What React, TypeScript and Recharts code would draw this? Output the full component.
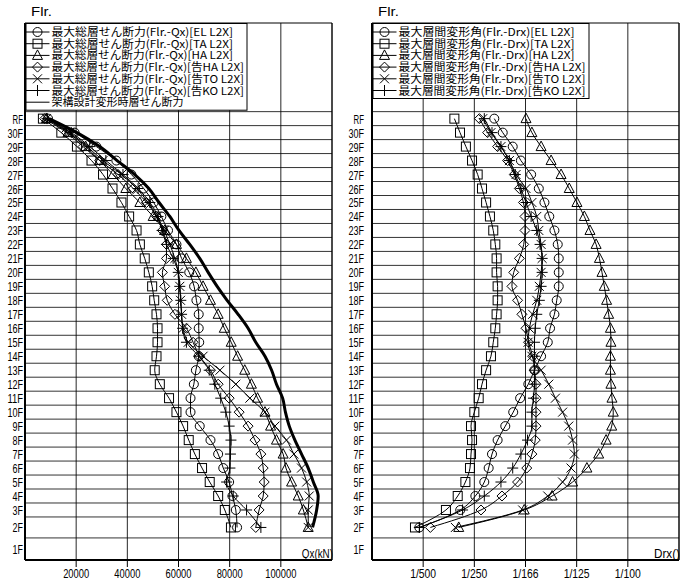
import React from 'react';
import { ComposedChart, Line, XAxis, YAxis, CartesianGrid, ReferenceLine, ReferenceArea } from 'recharts';

// floors, top to bottom
const FLOORS = ['RF', '30F', '29F', '28F', '27F', '26F', '25F', '24F', '23F', '22F', '21F', '20F', '19F', '18F', '17F', '16F',
  '15F', '14F', '13F', '12F', '11F', '10F', '9F', '8F', '7F', '6F', '5F', '4F', '3F', '2F', '1F'];
// story heights (m), top to bottom
const STORY_HEIGHTS = [3.8, 3.8, 3.8, 3.8, 3.8, 3.8, 3.8, 3.8, 3.8, 3.8, 3.8, 3.8, 3.8, 3.8, 3.8, 3.8,
  3.8, 3.8, 3.8, 3.8, 3.8, 3.8, 3.8, 3.8, 3.8, 3.8, 3.8, 3.8, 3.8, 5.7, 6.0];

// story shear Qx (kN), RF .. 2F
const QX_EL = [9000, 19400, 27900, 35700, 41600, 46400, 50300, 53300, 55900, 59200, 61200, 64200, 66100, 67000, 67900, 67900,
  68100, 67900, 66800, 66000, 64700, 64700, 68300, 72500, 75500, 77500, 79800, 81100, 82400, 82900];
const QX_TA = [7000, 14200, 20300, 26000, 30500, 34200, 37700, 40700, 43600, 44900, 46800, 48400, 49700, 50500, 51400, 51800,
  51800, 51400, 50700, 52700, 56300, 59200, 61800, 64000, 66400, 69200, 72200, 75500, 78100, 80500];
const QX_HA = [8400, 16800, 23700, 29200, 34400, 39400, 44900, 50100, 54600, 59200, 63100, 66800, 69600, 72500, 75500, 77900,
  80600, 83100, 85900, 88500, 90900, 93800, 96000, 98300, 100900, 102000, 104200, 106800, 108800, 110700];
const QX_KHA = [7700, 16200, 22700, 29200, 36400, 42300, 47500, 51400, 53700, 55300, 55300, 53700, 54600, 55600, 58600, 63100,
  65700, 68300, 72500, 75500, 79800, 83700, 87200, 89900, 92200, 93100, 93500, 93100, 91500, 90200];
const QX_KTO = [8400, 17500, 24300, 30500, 37700, 43600, 48100, 51600, 54400, 56600, 58600, 59900, 60500, 60800, 61200, 61800,
  63800, 69600, 76200, 82400, 87900, 93800, 97700, 102200, 105100, 108100, 110100, 111100, 110700, 110700];
const QX_KKO = [8600, 18100, 25300, 31600, 38300, 44200, 48800, 52000, 53600, 55300, 57900, 59900, 60500, 60900, 61200, 61600,
  63100, 67900, 72000, 74200, 76500, 78500, 79800, 80500, 80300, 80100, 78800, 81400, 86600, 92200];
const QX_DESIGN = [9400, 20300, 29200, 36000, 42900, 48400, 52400, 56600, 60200, 64400, 68300, 71600, 75100, 79000, 83300, 87200,
  90200, 93800, 96400, 98300, 100700, 101800, 103300, 105500, 108100, 110700, 112700, 114600, 114000, 112400];

// story drift angle Drx (x 1/1000 rad), RF .. 2F
const DRX_EL = [4.78, 5.11, 5.50, 5.82, 6.22, 6.52, 6.74, 6.93, 7.13, 7.26, 7.30, 7.30, 7.30, 7.22, 7.13, 6.96,
  6.87, 6.61, 6.35, 6.11, 5.79, 5.52, 5.21, 4.91, 4.69, 4.56, 4.39, 4.04, 3.45, 1.85];
const DRX_TA = [3.22, 3.44, 3.67, 3.91, 4.13, 4.30, 4.46, 4.61, 4.74, 4.82, 4.87, 4.87, 4.91, 4.91, 4.87, 4.82,
  4.74, 4.65, 4.46, 4.30, 4.17, 4.00, 3.87, 3.91, 3.87, 3.83, 3.65, 3.35, 2.89, 1.68];
const DRX_HA = [6.02, 6.25, 6.61, 7.00, 7.39, 7.71, 8.01, 8.30, 8.52, 8.76, 8.89, 8.99, 9.08, 9.17, 9.25, 9.32,
  9.34, 9.32, 9.32, 9.34, 9.38, 9.43, 9.37, 9.15, 8.86, 8.40, 7.84, 7.04, 5.95, 3.39];
const DRX_KHA = [4.20, 4.52, 4.91, 5.30, 5.56, 5.76, 5.92, 5.98, 5.98, 5.93, 5.76, 5.54, 5.47, 5.69, 5.86, 6.02,
  6.12, 6.28, 6.35, 6.41, 6.41, 6.41, 6.41, 6.38, 6.25, 6.05, 5.69, 5.08, 4.26, 2.28];
const DRX_KTO = [4.33, 4.65, 5.04, 5.37, 5.63, 6.02, 6.25, 6.44, 6.52, 6.61, 6.65, 6.61, 6.54, 6.44, 6.28, 6.15,
  6.10, 6.25, 6.61, 6.91, 7.17, 7.45, 7.69, 7.84, 7.91, 7.78, 7.45, 6.87, 5.89, 3.26];
const DRX_KKO = [4.39, 4.69, 5.04, 5.37, 5.60, 5.82, 6.02, 6.22, 6.44, 6.57, 6.65, 6.65, 6.61, 6.54, 6.44, 6.38,
  6.35, 6.35, 6.35, 6.35, 6.31, 6.25, 6.25, 6.08, 5.82, 5.50, 5.04, 4.39, 3.54, 1.85];

const QX_TICKS = [20000, 40000, 60000, 80000, 100000];
const DRX_TICKS = [2, 4, 6, 8, 10];
const DRX_TICK_LABELS = ['1/500', '1/250', '1/166', '1/125', '1/100'];

const QX_NAMES = [
  '最大総層せん断力(Flr.-Qx)[EL L2X]',
  '最大総層せん断力(Flr.-Qx)[TA L2X]',
  '最大総層せん断力(Flr.-Qx)[HA L2X]',
  '最大総層せん断力(Flr.-Qx)[告HA L2X]',
  '最大総層せん断力(Flr.-Qx)[告TO L2X]',
  '最大総層せん断力(Flr.-Qx)[告KO L2X]',
  '架構設計変形時層せん断力',
];
const DRX_NAMES = [
  '最大層間変形角(Flr.-Drx)[EL L2X]',
  '最大層間変形角(Flr.-Drx)[TA L2X]',
  '最大層間変形角(Flr.-Drx)[HA L2X]',
  '最大層間変形角(Flr.-Drx)[告HA L2X]',
  '最大層間変形角(Flr.-Drx)[告TO L2X]',
  '最大層間変形角(Flr.-Drx)[告KO L2X]',
];

type Shape = 'circle' | 'square' | 'triangle' | 'diamond' | 'cross' | 'plus' | 'none';
const SHAPES: Shape[] = ['circle', 'square', 'triangle', 'diamond', 'cross', 'plus', 'none'];

const AXIS_FONT = "'Liberation Sans', Arial, sans-serif";
const JP_FONT = "'Noto Sans CJK JP', sans-serif";
const CHAR_W = 5.2; // narrow gothic look

// story levels (bottom / mid / top) from the heights
const bottoms: number[] = [];
{
  let acc = 0;
  for (let i = FLOORS.length - 1; i >= 0; i--) {
    bottoms[i] = acc;
    acc += STORY_HEIGHTS[i];
  }
}
const mids = FLOORS.map((_, i) => bottoms[i] + STORY_HEIGHTS[i] / 2);
const tops = FLOORS.map((_, i) => bottoms[i] + STORY_HEIGHTS[i]);
const Y_MAX = 146;
const nameByMid = new Map(mids.map((m, i) => [m.toFixed(3), FLOORS[i]]));

function NarrowText({ x, y, anchor, children, dy }: { x: number; y: number; anchor: 'start' | 'middle' | 'end'; children: string; dy?: number }) {
  return (
    <text x={x} y={y} dy={dy ?? 0} textAnchor={anchor} fontSize={13} fontFamily={AXIS_FONT} fill="#000"
      textLength={children.length * CHAR_W} lengthAdjust="spacingAndGlyphs">{children}</text>
  );
}

function Marker({ shape, cx, cy }: { shape: Shape; cx: number; cy: number }) {
  const c = { fill: 'none', stroke: '#000', strokeWidth: 1 };
  const s = 4.5;
  switch (shape) {
    case 'circle':
      return <circle cx={cx} cy={cy} r={s} {...c} />;
    case 'square':
      return <rect x={cx - s} y={cy - s} width={2 * s} height={2 * s} {...c} />;
    case 'triangle':
      return <polygon points={`${cx},${cy - 5.5} ${cx + 5},${cy + 4} ${cx - 5},${cy + 4}`} {...c} />;
    case 'diamond':
      return <polygon points={`${cx},${cy - 5} ${cx + 5},${cy} ${cx},${cy + 5} ${cx - 5},${cy}`} {...c} />;
    case 'cross':
      return <path d={`M${cx - 4.5},${cy - 4.5}L${cx + 4.5},${cy + 4.5}M${cx - 4.5},${cy + 4.5}L${cx + 4.5},${cy - 4.5}`} {...c} />;
    case 'plus':
      return <path d={`M${cx - 5.5},${cy}L${cx + 5.5},${cy}M${cx},${cy - 5.5}L${cx},${cy + 5.5}`} {...c} />;
    default:
      return null;
  }
}

interface PanelProps {
  left: number;
  series: number[][];
  keys: string[];
  xMax: number;
  xTicks: number[];
  xFormat: (v: number) => string;
  xLabel: string;
  yLabelGap: number;
}

function Panel({ left, series, keys, xMax, xTicks, xFormat, xLabel, yLabelGap }: PanelProps) {
  const data = FLOORS.slice(0, series[0].length).map((f, i) => {
    const row: Record<string, number | string> = { floor: f, level: mids[i] };
    keys.forEach((k, j) => { row[k] = series[j][i]; });
    return row;
  });
  return (
    <div style={{ position: 'absolute', left, top: 0 }}>
      <ComposedChart width={340} height={582} data={data} layout="vertical"
        margin={{ top: 23, right: 8, bottom: 0, left: 0 }}>
        <CartesianGrid vertical horizontal={false} stroke="#000" strokeOpacity={0.85} />
        <XAxis type="number" domain={[0, xMax]} ticks={xTicks} interval={0} allowDataOverflow
          height={22} tickSize={7} tickMargin={1}
          axisLine={{ stroke: '#000', strokeWidth: 2 }} tickLine={{ stroke: '#000' }}
          tick={(p: any) => (
            <NarrowText x={p.x} y={p.y} dy={10} anchor="middle">{xFormat(p.payload.value)}</NarrowText>
          )}
          label={{
            content: (p: any) => {
              const vb = p.viewBox;
              return <NarrowText x={vb.x + vb.width + 1} y={vb.y - 2} anchor="end">{xLabel}</NarrowText>;
            },
          }} />
        <YAxis type="number" dataKey="level" domain={[0, Y_MAX]} ticks={mids} interval={0} allowDataOverflow reversed
          width={25} tickSize={0} tickMargin={yLabelGap} tickLine={false}
          axisLine={{ stroke: '#000', strokeWidth: 2 }}
          tick={(p: any) => (
            <NarrowText x={p.x} y={p.y} dy={5} anchor="end">{nameByMid.get(Number(p.payload.value).toFixed(3)) ?? ''}</NarrowText>
          )}
          label={{
            content: (p: any) => {
              const vb = p.viewBox;
              return <NarrowText x={vb.x + vb.width + 6} y={vb.y - 7} anchor="start">Flr.</NarrowText>;
            },
          }} />
        <ReferenceArea x1={0} x2={xMax} y1={0} y2={Y_MAX} fill="none" stroke="#000" strokeWidth={1} />
        {tops.map((t, i) => (
          <ReferenceLine key={`lv-${i}`} y={t} stroke="#000" strokeOpacity={0.8} />
        ))}
        {keys.map((k, j) => (
          <Line key={k} dataKey={k} type="monotone" stroke="#000"
            strokeWidth={SHAPES[j] === 'none' ? 3 : 1}
            dot={SHAPES[j] === 'none' ? false : (p: any) => (
              <Marker key={`${k}-${p.index}`} shape={SHAPES[j]} cx={p.cx} cy={p.cy} />
            )}
            activeDot={false} isAnimationActive={false} />
        ))}
      </ComposedChart>
    </div>
  );
}

function textWidth(s: string, size: number) {
  let w = 0;
  for (const ch of s) w += ch.charCodeAt(0) > 0x2000 ? size : size / 2;
  return w;
}

function LegendBox({ x, width, names }: { x: number; width: number; names: string[] }) {
  const top = 23;
  const row = 11.7;
  const height = 16.5 + (names.length - 1) * row;
  return (
    <g>
      <rect x={x + 0.5} y={top + 0.5} width={width} height={height} fill="#fff" stroke="#000" />
      {names.map((n, i) => {
        const cy = top + 9 + i * row;
        return (
          <g key={n}>
            <line x1={x} x2={x + 24} y1={cy} y2={cy} stroke="#000" strokeWidth={1} />
            <Marker shape={SHAPES[i]} cx={x + 12} cy={cy} />
            <text x={x + 26} y={cy + 4} fontSize={11} fontFamily={JP_FONT} fill="#000"
              textLength={textWidth(n, 11)} lengthAdjust="spacingAndGlyphs">{n}</text>
          </g>
        );
      })}
    </g>
  );
}

export default function App() {
  return (
    <div style={{ position: 'absolute', left: 0, top: 0, width: 694, height: 582, background: '#fff' }}>
      <Panel left={0} series={[QX_EL, QX_TA, QX_HA, QX_KHA, QX_KTO, QX_KKO, QX_DESIGN]}
        keys={['el', 'ta', 'ha', 'kha', 'kto', 'kko', 'design']} xMax={120000} xTicks={QX_TICKS}
        xFormat={(v) => String(v)} xLabel="Qx(kN)" yLabelGap={2} />
      <Panel left={347} series={[DRX_EL, DRX_TA, DRX_HA, DRX_KHA, DRX_KTO, DRX_KKO]}
        keys={['el', 'ta', 'ha', 'kha', 'kto', 'kko']} xMax={12} xTicks={DRX_TICKS}
        xFormat={(v) => DRX_TICK_LABELS[DRX_TICKS.indexOf(v)] ?? ''} xLabel="Drx()" yLabelGap={8} />
      <svg width={694} height={582} style={{ position: 'absolute', left: 0, top: 0, pointerEvents: 'none' }}>
        <LegendBox x={25.5} width={221} names={QX_NAMES} />
        <LegendBox x={372.5} width={216} names={DRX_NAMES} />
      </svg>
    </div>
  );
}
